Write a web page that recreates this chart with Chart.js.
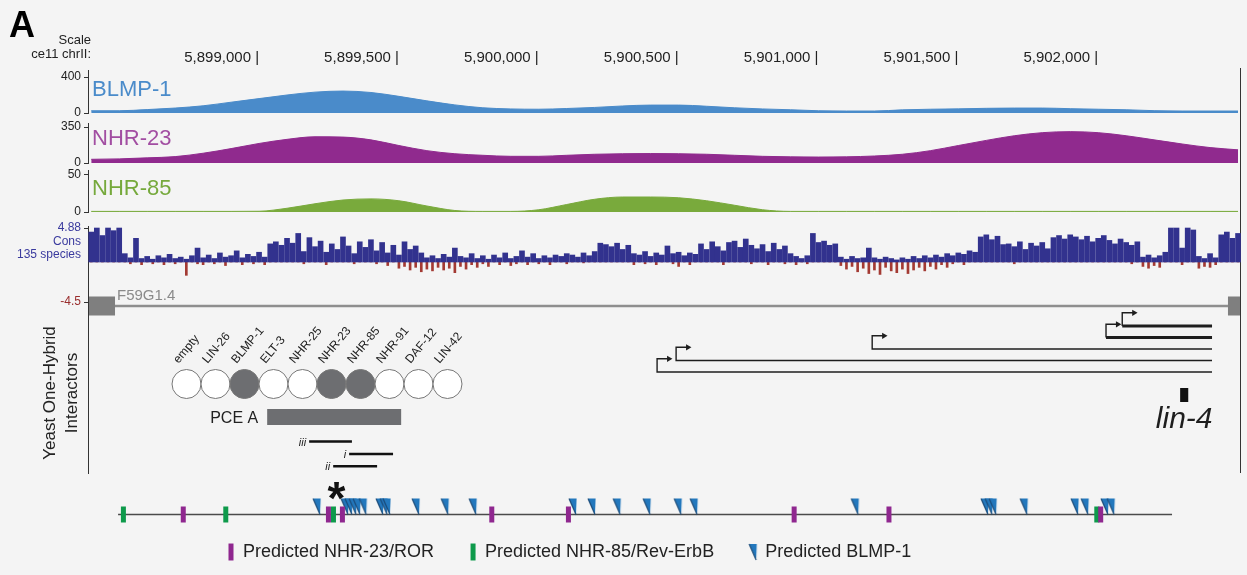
<!DOCTYPE html>
<html>
<head>
<meta charset="utf-8">
<title>lin-4 upstream region</title>
<script src="https://cdn.jsdelivr.net/npm/chart.js@4.4.1/dist/chart.umd.min.js"></script>
<style>
  html, body { margin: 0; padding: 0; background: #fff; }
  #wrap { width: 1247px; height: 575px; }
</style>
</head>
<body>
<div id="wrap"><canvas id="chart" width="1247" height="575"></canvas></div>
<script>
// browser window on ce11 chrII
const X_MIN = 5898392;
const X_MAX = 5902507;
const X_TICKS = [5899000, 5899500, 5900000, 5900500, 5901000, 5901500, 5902000];
const X_TICK_LABELS = ['5,899,000', '5,899,500', '5,900,000', '5,900,500', '5,901,000', '5,901,500', '5,902,000'];

// ChIP-seq signal, read every 100 bp
const SIGNAL_POS = [
  5898400, 5898500, 5898600, 5898700, 5898800, 5898900, 5899000, 5899100, 5899200, 5899300,
  5899400, 5899500, 5899600, 5899700, 5899800, 5899900, 5900000, 5900100, 5900200, 5900300,
  5900400, 5900500, 5900600, 5900700, 5900800, 5900900, 5901000, 5901100, 5901200, 5901300,
  5901400, 5901500, 5901600, 5901700, 5901800, 5901900, 5902000, 5902100, 5902200, 5902300,
  5902400, 5902500
];
const BLMP1_SIGNAL = [
  25, 25, 38, 55, 80, 120, 160, 200, 232, 244,
  228, 185, 135, 90, 58, 45, 42, 50, 62, 78,
  88, 88, 75, 58, 45, 36, 25, 22, 22, 35,
  42, 46, 52, 55, 55, 48, 42, 36, 26, 22,
  22, 22
];
const NHR23_SIGNAL = [
  36, 40, 50, 62, 95, 140, 190, 230, 255, 252,
  225, 170, 120, 90, 75, 65, 65, 75, 85, 90,
  92, 90, 85, 75, 65, 60, 58, 60, 68, 85,
  120, 170, 220, 265, 295, 305, 295, 265, 225, 185,
  150, 128
];
const NHR85_SIGNAL = [
  0.8, 0.8, 0.8, 0.8, 0.8, 0.8, 1, 5, 11, 16,
  17.5, 15, 8, 2, 0.8, 0.8, 3, 10, 17, 20,
  20, 19, 15, 9, 3, 0.8, 0.8, 0.8, 0.8, 0.8,
  0.8, 0.8, 0.8, 0.8, 0.8, 0.8, 0.8, 0.8, 0.8, 0.8,
  0.8, 0.8
];

// conservation (135 species), one bar every 20 bp from CONS_START
const CONS_START = 5898400;
const CONS_STEP = 20;
const CONS_POS = [
  4.3, 4.88, 3.8, 4.88, 4.5, 4.88, 1.2, 0.6, 3.4, 0.5,
  0.8, 0.4, 0.9, 0.6, 1.1, 0.5, 0.7, 0.4, 0.9, 2.0,
  0.6, 1.0, 0.5, 1.3, 0.7, 0.9, 1.6, 0.6, 1.1, 0.8,
  1.4, 0.7, 2.6, 2.9, 2.4, 3.4, 2.7, 4.1, 1.5, 3.5,
  2.2, 3.0, 1.4, 2.6, 1.8, 3.6, 2.3, 1.2, 2.9, 2.1,
  3.2, 1.6, 2.8, 1.3, 2.4, 1.0, 2.9, 1.8, 2.3, 1.3,
  0.6, 0.9, 0.5, 1.1, 0.7, 2.0, 0.8, 0.6, 1.2, 0.5,
  0.9, 0.4, 1.0, 0.6, 1.3, 0.5, 0.8, 1.6, 0.7, 1.2,
  0.5, 0.9, 0.6, 1.0, 0.8, 1.2, 1.0, 0.7, 1.3, 0.9,
  1.5, 2.7, 2.5, 2.2, 2.7, 1.8, 2.4, 1.2, 1.0, 1.5,
  0.8, 1.3, 1.0, 2.3, 1.2, 1.4, 0.9, 1.3, 1.1, 2.6,
  1.8, 2.9, 2.2, 1.6, 2.8, 3.0, 2.1, 3.3, 2.4, 1.9,
  2.5, 1.5, 2.7, 1.8, 2.3, 1.2, 0.8, 0.5, 0.9, 4.1,
  2.8, 3.0, 2.4, 2.6, 0.7, 0.4, 0.8, 0.5, 0.6, 2.0,
  0.6, 0.4, 0.7, 0.5, 0.3, 0.6, 0.4, 0.8, 0.5, 0.9,
  0.6, 1.0, 0.7, 1.2, 0.9, 1.3, 1.1, 1.6, 1.4, 3.6,
  3.9, 3.2, 3.7, 2.5, 2.6, 2.2, 2.9, 1.8, 2.7, 2.3,
  2.8, 1.9, 3.5, 3.8, 3.3, 3.9, 3.6, 3.2, 3.7, 2.9,
  3.4, 3.8, 3.1, 2.6, 3.3, 2.8, 2.4, 2.9, 0.7, 1.0,
  0.6, 0.9, 1.4, 4.88, 4.88, 2.0, 4.88, 4.6, 0.8, 0.5,
  1.2, 0.6, 3.9, 4.3, 3.4, 4.1
];
const CONS_NEG = [
  0, 0, 0, 0, 0, 0, 0, -0.2, 0, -0.3,
  0, -0.2, 0, -0.3, 0, -0.2, 0, -1.5, 0, -0.2,
  -0.3, 0, -0.2, 0, -0.4, 0, 0, -0.3, 0, -0.2,
  0, -0.3, 0, 0, 0, 0, 0, 0, -0.2, 0,
  0, 0, -0.3, 0, 0, 0, 0, -0.2, 0, 0,
  0, -0.2, 0, -0.4, 0, -0.7, -0.5, -0.9, -0.6, -1.1,
  -0.8, -1.0, -0.6, -0.9, -0.7, -1.2, -0.5, -0.8, -0.3, -0.6,
  -0.2, -0.5, 0, -0.3, 0, -0.4, -0.2, 0, -0.3, 0,
  -0.2, 0, -0.3, 0, 0, -0.2, 0, 0, -0.1, 0,
  0, 0, 0, 0, 0, 0, 0, -0.3, 0, -0.2,
  0, -0.3, 0, 0, -0.2, -0.5, 0, -0.3, 0, 0,
  0, 0, 0, -0.3, 0, 0, 0, 0, -0.2, 0,
  0, -0.3, 0, 0, -0.2, 0, -0.3, 0, -0.2, 0,
  0, 0, 0, 0, -0.4, -0.8, -0.5, -1.1, -0.7, -1.3,
  -0.9, -1.4, -0.6, -1.0, -1.2, -0.8, -1.3, -0.9, -0.6, -1.0,
  -0.5, -0.8, -0.3, -0.6, -0.2, 0, -0.3, 0, 0, 0,
  0, 0, 0, 0, 0, -0.2, 0, 0, 0, 0,
  0, 0, 0, 0, 0, 0, 0, 0, 0, 0,
  0, 0, 0, 0, 0, 0, -0.2, 0, -0.5, -0.7,
  -0.4, -0.6, 0, 0, 0, -0.3, 0, 0, -0.7, -0.5,
  -0.6, -0.3, 0, 0, 0, 0
];

// gene model and lin-4 transcripts
const GENE_NAME = 'F59G1.4';
const GENE_EXONS = [[5898392, 5898485], [5902464, 5902507]];
const GENE_INTRON = [5898485, 5902464];
const TX_START = [5902086, 5902028, 5901192, 5900491, 5900423];
const TX_END = [5902407, 5902407, 5902407, 5902407, 5902407];
const TX_THICK = [true, true, false, false, false];
const LIN4 = [5902293, 5902322];

// yeast one-hybrid screen of PCE A
const Y1H_FACTORS = ['empty', 'LIN-26', 'BLMP-1', 'ELT-3', 'NHR-25', 'NHR-23', 'NHR-85', 'NHR-91', 'DAF-12', 'LIN-42'];
const Y1H_BOUND = [false, false, true, false, false, true, true, false, false, false];
const PCE_A = [5899029, 5899508];
const FRAGMENT_NAMES = ['iii', 'i', 'ii'];
const FRAGMENTS = [[5899179, 5899332], [5899322, 5899479], [5899265, 5899422]];

// predicted binding sites
const MOTIF_SPAN = [5898496, 5902264];
const ROR_SITES = [5898729, 5899248, 5899298, 5899832, 5900106, 5900913, 5901252, 5902009];
const REVERB_SITES = [5898515, 5898881, 5899266, 5901995];
const BLMP1_SITES = [
  5899218, 5899318, 5899332, 5899347, 5899361, 5899383, 5899443, 5899458, 5899468,
  5899572, 5899676, 5899776, 5900133, 5900201, 5900291, 5900398, 5900509, 5900566,
  5901142, 5901606, 5901621, 5901635, 5901746, 5901928, 5901964, 5902035, 5902057
];

const FONT = "'Liberation Sans', Arial, Helvetica, sans-serif";
const C_BLMP = '#4a8bca';
const C_NHR23 = '#902a8e';
const C_NHR85 = '#79aa3c';
const C_CONS = '#32328e';
const C_CONS_NEG = '#a33a33';
const C_GRAY = '#6d6e71';
const C_ROR = '#8f278f';
const C_REVERB = '#0e9a4b';
const C_SITE = '#2378bd';
const ARROW_RISE = 1.15;
const ARROW_LEN = 42;

Chart.defaults.font.family = FONT;
Chart.defaults.color = '#222';

// pixel boxes of every track
const BOXES = {
  x:         {left: 89, right: 1240, top: 40, bottom: 67},
  yBlmp:     {left: 20, right: 88, top: 70, bottom: 113},
  yNhr23:    {left: 20, right: 88, top: 123, bottom: 163},
  yNhr85:    {left: 20, right: 88, top: 170, bottom: 212},
  yConsPos:  {left: 20, right: 88, top: 226, bottom: 262},
  yConsNeg:  {left: 20, right: 88, top: 262, bottom: 302},
  yFrame:    {left: 20, right: 88, top: 302, bottom: 473},
  yFrameR:   {left: 1240, right: 1247, top: 68, bottom: 472},
  yGene:     {left: 89, right: 1240, top: 296, bottom: 316},
  yTx:       {left: 89, right: 1240, top: 314.5, bottom: 400.75},
  yY1h:      {left: 89, right: 1240, top: 370, bottom: 398},
  xY1h:      {left: 172, right: 462, top: 398, bottom: 400},
  yFrag:     {left: 89, right: 1240, top: 404.7, bottom: 478.5},
  yMotif:    {left: 89, right: 1240, top: 499.5, bottom: 529.5}
};

function triangleMark(w, h, tipX, tipY) {
  const c = document.createElement('canvas');
  c.width = w;
  c.height = h;
  const g = c.getContext('2d');
  g.beginPath();
  g.moveTo(tipX - 7, tipY - 16);
  g.lineTo(tipX + 0.6, tipY - 16);
  g.lineTo(tipX, tipY);
  g.closePath();
  g.fillStyle = C_SITE;
  g.fill();
  g.beginPath();
  g.moveTo(tipX - 7, tipY - 16);
  g.lineTo(tipX, tipY);
  g.strokeStyle = '#1b4c7a';
  g.lineWidth = 1.2;
  g.stroke();
  return c;
}
// tip sits on the point, so the site is drawn above the line
const SITE_MARK = triangleMark(20, 34, 10, 17);
const SITE_MARK_LEGEND = triangleMark(14, 18, 10, 17);

function xy(xs, ys) {
  return xs.map((x, i) => ({x: x, y: ys[i]}));
}

function spans(ranges, rows) {
  const pts = [];
  ranges.forEach((r, i) => {
    const row = Array.isArray(rows) ? rows[i] : rows;
    pts.push({x: r[0], y: row}, {x: r[1], y: row}, {x: r[1], y: null});
  });
  return pts;
}

function areaTrack(values, color, axis) {
  return {
    type: 'line', data: xy(SIGNAL_POS, values), yAxisID: axis,
    borderColor: color, backgroundColor: color, borderWidth: 1,
    fill: 'origin', pointRadius: 0, cubicInterpolationMode: 'monotone', clip: false
  };
}

function bar(values, color, axis, thickness) {
  return {
    type: 'bar', data: values.map((v, i) => ({x: CONS_START + i * CONS_STEP, y: v})),
    yAxisID: axis, backgroundColor: color, borderWidth: 0, barThickness: thickness,
    grouped: false, clip: false
  };
}

function bandLine(data, axis, width, color) {
  return {
    type: 'line', data: data, yAxisID: axis, borderColor: color, borderWidth: width,
    borderCapStyle: 'butt', pointRadius: 0, tension: 0, spanGaps: false, clip: false
  };
}

function sites(label, xs, color) {
  return {
    type: 'scatter', label: label, data: xs.map(x => ({x: x, y: 0})), yAxisID: 'yMotif',
    pointStyle: 'line', pointRotation: 90, pointRadius: 8, pointBorderWidth: 5,
    pointBorderColor: color, pointBackgroundColor: color, borderColor: color,
    backgroundColor: color, showInLegend: true, clip: false
  };
}

const datasets = [
  sites('Predicted NHR-23/ROR', ROR_SITES, C_ROR),
  sites('Predicted NHR-85/Rev-ErbB', REVERB_SITES, C_REVERB),
  {
    type: 'scatter', label: 'Predicted BLMP-1', data: BLMP1_SITES.map(x => ({x: x, y: 0})),
    yAxisID: 'yMotif', pointStyle: SITE_MARK, pointRadius: 4, borderColor: C_SITE,
    backgroundColor: C_SITE, showInLegend: true, legendStyle: SITE_MARK_LEGEND, clip: false
  },
  bandLine(spans([MOTIF_SPAN], 0), 'yMotif', 1.5, '#4a4a4a'),
  bandLine(spans([PCE_A], 0), 'yFrag', 16, C_GRAY),
  bandLine(spans(FRAGMENTS, FRAGMENTS.map((f, i) => i + 2)), 'yFrag', 2.5, '#111'),
  {
    type: 'scatter', data: Y1H_FACTORS.map((f, i) => ({x: i, y: 0})),
    xAxisID: 'xY1h', yAxisID: 'yY1h', pointRadius: 14.5, pointBorderWidth: 1,
    pointBorderColor: '#777', pointBackgroundColor: Y1H_BOUND.map(b => b ? C_GRAY : '#fff'),
    clip: false
  },
  bandLine(spans([LIN4], 6), 'yTx', 14, '#111'),
  ...TX_START.map((s, i) => ({
    type: 'line',
    data: [
      {x: s + ARROW_LEN, y: i - ARROW_RISE}, {x: s, y: i - ARROW_RISE},
      {x: s, y: i}, {x: TX_END[i], y: i}
    ],
    yAxisID: 'yTx', borderColor: '#1e1e1e', borderWidth: 1.4, tension: 0,
    segment: {borderWidth: c => (c.p0DataIndex === 2 && TX_THICK[i]) ? 3.2 : 1.4},
    pointRadius: c => c.dataIndex === 0 ? 3.6 : 0,
    pointStyle: 'triangle', pointRotation: 90, pointBackgroundColor: '#1e1e1e',
    pointBorderWidth: 0, clip: false
  })),
  bandLine(spans(GENE_EXONS, 0), 'yGene', 19, '#7f7f7f'),
  bandLine(spans([GENE_INTRON], 0), 'yGene', 2.5, '#8e8e8e'),
  bar(CONS_POS, C_CONS, 'yConsPos', 5),
  bar(CONS_NEG, C_CONS_NEG, 'yConsNeg', 2),
  areaTrack(NHR85_SIGNAL, C_NHR85, 'yNhr85'),
  areaTrack(NHR23_SIGNAL, C_NHR23, 'yNhr23'),
  areaTrack(BLMP1_SIGNAL, C_BLMP, 'yBlmp')
];

function trackAxis(min, max, ticks, color) {
  return {
    type: 'linear', position: 'left', stack: 'tracks', min: min, max: max,
    afterBuildTicks: axis => { axis.ticks = ticks.map(v => ({value: v})); },
    ticks: {color: color, font: {size: 12}, padding: 3, callback: v => String(v)},
    grid: {display: true, drawOnChartArea: false, drawTicks: true, tickLength: 4, color: '#333'},
    border: {display: true, color: '#333', width: 1}
  };
}

function hiddenAxis(min, max, reverse) {
  return {type: 'linear', display: false, offset: false, min: min, max: max, reverse: !!reverse};
}

const trackLayout = {
  id: 'trackLayout',
  afterLayout(chart) {
    Object.keys(BOXES).forEach(id => {
      const s = chart.scales[id];
      if (!s) return;
      Object.assign(s, BOXES[id]);
      s.width = s.right - s.left;
      s.height = s.bottom - s.top;
      s.configure();
    });
    Object.assign(chart.chartArea, {left: 0, top: 0, right: 1247, bottom: 575, width: 1247, height: 575});
    if (chart.legend) {
      Object.assign(chart.legend, {left: 192, top: 507, right: 1247, bottom: 575, width: 1055, height: 68});
    }
  }
};

const paper = {
  id: 'paper',
  beforeDraw(chart) {
    const ctx = chart.ctx;
    ctx.save();
    ctx.fillStyle = '#f4f4f4';
    ctx.fillRect(0, 0, chart.width, chart.height);
    ctx.restore();
  }
};

function put(ctx, str, x, y, font, color, align) {
  ctx.font = font + ' ' + FONT;
  ctx.fillStyle = color;
  ctx.textAlign = align || 'left';
  ctx.fillText(str, x, y);
}

const annotationText = {
  id: 'annotationText',
  afterDraw(chart) {
    const ctx = chart.ctx;
    const sc = chart.scales;
    const gx = v => sc.x.getPixelForValue(v);
    ctx.save();
    ctx.textBaseline = 'alphabetic';

    put(ctx, 'A', 9, 37, 'bold 36px', '#000');
    put(ctx, 'Scale', 91, 44, '13px', '#222', 'right');
    put(ctx, 'ce11 chrII:', 91, 58, '13px', '#222', 'right');

    put(ctx, 'BLMP-1', 92, 96, '22px', C_BLMP);
    put(ctx, 'NHR-23', 92, 145, '22px', '#a24ea2');
    put(ctx, 'NHR-85', 92, 195, '22px', '#76a93c');

    put(ctx, 'Cons', 81, 245, '12px', '#3a3a9e', 'right');
    put(ctx, '135 species', 81, 258, '12px', '#3a3a9e', 'right');

    put(ctx, GENE_NAME, gx(GENE_INTRON[0]) + 2, 300, '15px', '#8a8a8a');

    // factor names above the circles
    ctx.font = '12px ' + FONT;
    ctx.fillStyle = '#222';
    ctx.textAlign = 'left';
    Y1H_FACTORS.forEach((name, i) => {
      const cx = sc.xY1h.getPixelForValue(i);
      const cy = sc.yY1h.getPixelForValue(0);
      ctx.save();
      ctx.translate(cx - 8, cy - 20);
      ctx.rotate(-50 * Math.PI / 180);
      ctx.fillText(name, 0, 0);
      ctx.restore();
    });

    put(ctx, 'PCE A', gx(PCE_A[0]) - 9, 423, '16px', '#222', 'right');
    FRAGMENTS.forEach((f, i) => {
      put(ctx, FRAGMENT_NAMES[i], gx(f[0]) - 3, sc.yFrag.getPixelForValue(i + 2) + 4, 'italic 11px', '#222', 'right');
    });
    put(ctx, '*', gx(REVERB_SITES[2]) + 3, 514, 'bold 46px', '#111', 'center');

    put(ctx, 'lin-4', gx((LIN4[0] + LIN4[1]) / 2), 428, 'italic 30px', '#1e1e1e', 'center');

    [['Yeast One-Hybrid', 55], ['Interactors', 77]].forEach(([str, x]) => {
      ctx.save();
      ctx.translate(x, 393);
      ctx.rotate(-Math.PI / 2);
      put(ctx, str, 0, 0, '17px', '#222', 'center');
      ctx.restore();
    });
    ctx.restore();
  }
};

new Chart(document.getElementById('chart'), {
  type: 'line',
  data: {datasets: datasets},
  options: {
    responsive: false,
    animation: false,
    events: [],
    layout: {padding: 0},
    scales: {
      x: {
        type: 'linear', position: 'top', min: X_MIN, max: X_MAX, offset: false,
        afterBuildTicks: axis => { axis.ticks = X_TICKS.map(v => ({value: v})); },
        ticks: {
          callback: (v, i) => X_TICK_LABELS[i] + ' |', align: 'end', font: {size: 15},
          color: '#222', padding: 0, autoSkip: false, maxRotation: 0
        },
        grid: {display: false, drawTicks: false, offset: false},
        border: {display: false}
      },
      yBlmp: trackAxis(0, 478, [0, 400], '#222'),
      yNhr23: trackAxis(0, 389, [0, 350], '#222'),
      yNhr85: trackAxis(0, 56, [0, 50], '#222'),
      yConsPos: trackAxis(0, 5.17, [4.88], '#3a3a9e'),
      yConsNeg: trackAxis(-4.5, 0, [-4.5], '#9a2e2e'),
      yFrame: {
        type: 'linear', position: 'left', stack: 'tracks', min: 0, max: 1,
        ticks: {display: false}, grid: {display: false, drawTicks: false},
        border: {display: true, color: '#333', width: 1}
      },
      yFrameR: {
        type: 'linear', position: 'right', min: 0, max: 1,
        ticks: {display: false}, grid: {display: false, drawTicks: false},
        border: {display: true, color: '#333', width: 1}
      },
      yGene: hiddenAxis(-1, 1),
      yTx: hiddenAxis(-1, 6.5, true),
      yY1h: hiddenAxis(-1, 1),
      xY1h: hiddenAxis(-0.5, 9.5),
      yFrag: hiddenAxis(-1, 5, true),
      yMotif: hiddenAxis(-1, 1)
    },
    plugins: {
      tooltip: {enabled: false},
      legend: {
        position: 'bottom',
        align: 'start',
        labels: {
          usePointStyle: true, boxWidth: 6, boxHeight: 12, padding: 36,
          font: {size: 18}, color: '#222',
          filter: (item, data) => !!data.datasets[item.datasetIndex].showInLegend,
          generateLabels: chart => {
            const items = Chart.defaults.plugins.legend.labels.generateLabels(chart);
            items.forEach(it => {
              const ds = chart.data.datasets[it.datasetIndex];
              if (ds.legendStyle) it.pointStyle = ds.legendStyle;
            });
            return items;
          }
        }
      }
    }
  },
  plugins: [paper, trackLayout, annotationText]
});
</script>
</body>
</html>
